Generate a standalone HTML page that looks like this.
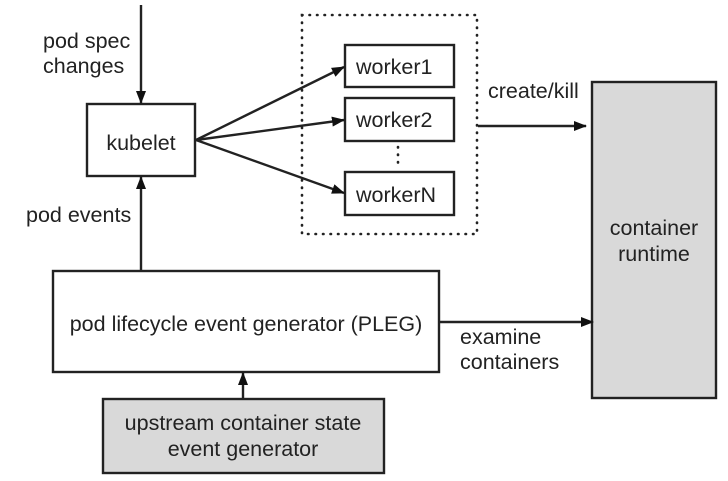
<!DOCTYPE html>
<html><head><meta charset="utf-8"><style>
html,body{margin:0;padding:0;background:#fff;}
svg{display:block;}
text{font-family:"Liberation Sans",Arial,sans-serif;font-size:21.5px;fill:#222;}
</style></head><body>
<svg width="728" height="481" viewBox="0 0 728 481" xmlns="http://www.w3.org/2000/svg">
<defs>
<marker id="a" markerWidth="13" markerHeight="10" refX="12" refY="5" orient="auto" markerUnits="userSpaceOnUse">
<path d="M0,0 L13,5 L0,10 z" fill="#111"/>
</marker>
</defs>
<g stroke="#222" stroke-width="2.4" fill="none">
<rect x="302" y="15" width="175" height="219" stroke-dasharray="0.5 7" stroke-linecap="round" stroke-width="2.6"/>
<line x1="398" y1="147" x2="398" y2="168" stroke-dasharray="0.5 7" stroke-linecap="round" stroke-width="2.6"/>
<rect x="87" y="104" width="108" height="72" fill="#fff"/>
<rect x="345" y="45" width="109" height="42" fill="#fff"/>
<rect x="345" y="98" width="109" height="43" fill="#fff"/>
<rect x="345" y="172" width="109" height="43" fill="#fff"/>
<rect x="53" y="271" width="386" height="101" fill="#fff"/>
<rect x="103" y="399" width="281" height="74" fill="#d9d9d9"/>
<rect x="592" y="82" width="124" height="316" fill="#d9d9d9"/>
<line x1="141" y1="5" x2="141" y2="103" marker-end="url(#a)"/>
<line x1="141" y1="270" x2="141" y2="177" marker-end="url(#a)"/>
<line x1="243" y1="398" x2="243" y2="373" marker-end="url(#a)"/>
<line x1="196" y1="140" x2="344" y2="67" marker-end="url(#a)"/>
<line x1="196" y1="140" x2="344" y2="120" marker-end="url(#a)"/>
<line x1="196" y1="140" x2="344" y2="193" marker-end="url(#a)"/>
<line x1="478" y1="126" x2="586" y2="126" marker-end="url(#a)"/>
<line x1="440" y1="322" x2="593" y2="322" marker-end="url(#a)"/>
</g>
<text x="43" y="48">pod spec</text>
<text x="43" y="73">changes</text>
<text x="141" y="150" text-anchor="middle">kubelet</text>
<text x="26" y="222">pod events</text>
<text x="356" y="74">worker1</text>
<text x="356" y="127">worker2</text>
<text x="356" y="202">workerN</text>
<text x="488" y="98">create/kill</text>
<text x="654" y="235" text-anchor="middle">container</text>
<text x="654" y="261" text-anchor="middle">runtime</text>
<text x="246" y="331" text-anchor="middle">pod lifecycle event generator (PLEG)</text>
<text x="460" y="344">examine</text>
<text x="460" y="369">containers</text>
<text x="243" y="430" text-anchor="middle">upstream container state</text>
<text x="243" y="456" text-anchor="middle">event generator</text>
</svg>
</body></html>
